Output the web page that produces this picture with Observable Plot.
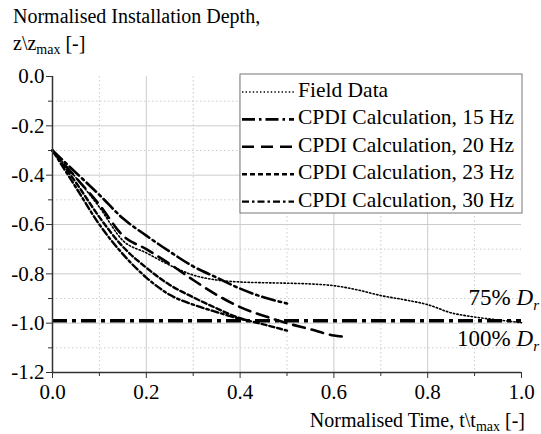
<!DOCTYPE html>
<html><head><meta charset="utf-8">
<script src="https://cdn.jsdelivr.net/npm/d3@7"></script>
<script src="https://cdn.jsdelivr.net/npm/@observablehq/plot@0.6"></script>
<style>
body{margin:0;background:#fff}
svg, svg text, svg tspan { font-family: "Liberation Serif", "Times New Roman", Times, serif !important; }
</style>
</head><body><div id="chart"></div>
<script>
// ---- data ----
const seriesNames = ["Field Data", "CPDI Calculation, 15 Hz", "CPDI Calculation, 20 Hz", "CPDI Calculation, 23 Hz", "CPDI Calculation, 30 Hz"];
const fieldT = [0, 0.05, 0.1, 0.15, 0.2, 0.25, 0.3, 0.35, 0.4, 0.45, 0.5, 0.55, 0.6, 0.65, 0.7, 0.75, 0.8, 0.85, 0.9, 0.95, 1.0];
const fieldZ = [-0.30, -0.41, -0.53, -0.665, -0.715, -0.765, -0.805, -0.825, -0.833, -0.836, -0.838, -0.841, -0.848, -0.865, -0.888, -0.905, -0.925, -0.958, -0.975, -0.987, -0.998];
const hz15T = [0, 0.05, 0.1, 0.15, 0.2, 0.25, 0.3, 0.35, 0.4, 0.45, 0.5];
const hz15Z = [-0.30, -0.39, -0.48, -0.575, -0.645, -0.71, -0.77, -0.815, -0.86, -0.895, -0.92];
const hz20T = [0, 0.05, 0.1, 0.15, 0.2, 0.25, 0.3, 0.35, 0.4, 0.45, 0.5, 0.55, 0.6, 0.62];
const hz20Z = [-0.30, -0.41, -0.52, -0.645, -0.70, -0.76, -0.825, -0.885, -0.935, -0.97, -1.0, -1.025, -1.05, -1.055];
const hz23T = [0, 0.05, 0.1, 0.15, 0.2, 0.25, 0.3, 0.35, 0.4, 0.45, 0.5];
const hz23Z = [-0.30, -0.43, -0.57, -0.69, -0.775, -0.845, -0.895, -0.94, -0.98, -1.005, -1.03];
const hz30T = [0, 0.05, 0.1, 0.15, 0.2, 0.25, 0.3, 0.35, 0.4, 0.42];
const hz30Z = [-0.30, -0.45, -0.60, -0.72, -0.815, -0.885, -0.925, -0.955, -0.982, -0.99];
const refZ = -0.99;
const xTicks = [0, 0.2, 0.4, 0.6, 0.8, 1.0];
const xMinor = [0.1, 0.3, 0.5, 0.7, 0.9];
const yTicks = [0, -0.2, -0.4, -0.6, -0.8, -1.0, -1.2];
const yMinor = [-0.1, -0.3, -0.5, -0.7, -0.9, -1.1];
const refLabels = ["75% ", "100% "];

// ---- styles per series ----
const styles = [
  {dash: "1.4,2.2", w: 1.6},
  {dash: "13,4,2.5,4", w: 2.6},
  {dash: "12,7", w: 2.6},
  {dash: "5,3", w: 2.4},
  {dash: "7,3,2.5,3", w: 2.4}
];
const tArr = [fieldT, hz15T, hz20T, hz23T, hz30T];
const zArr = [fieldZ, hz15Z, hz20Z, hz23Z, hz30Z];
const series = seriesNames.map((name, i) => tArr[i].map((t, j) => ({name, t, z: zArr[i][j]})));

const font = "Liberation Serif, Times New Roman, serif";
const lineMarks = series.map((rows, i) => Plot.line(rows, {x: "t", y: "z", curve: "monotone-x", stroke: "#000", strokeWidth: styles[i].w, strokeDasharray: styles[i].dash}));

const chart = Plot.plot({
  width: 541, height: 434,
  marginLeft: 52, marginRight: 20, marginTop: 76, marginBottom: 62,
  style: {fontFamily: font, fontSize: "21px", color: "#000", background: "#fff"},
  x: {domain: [0, 1]},
  y: {domain: [-1.2, 0]},
  marks: [
    Plot.gridX(xMinor, {stroke: "#ccc", strokeOpacity: 1, strokeDasharray: "1.5,2.5"}),
    Plot.gridY(yMinor, {stroke: "#ccc", strokeOpacity: 1, strokeDasharray: "1.5,2.5"}),
    Plot.gridX(xTicks.filter(d => d > 0 && d < 1), {stroke: "#ccc", strokeOpacity: 1}),
    Plot.gridY(yTicks.filter(d => d < 0 && d > -1.2), {stroke: "#ccc", strokeOpacity: 1}),
    Plot.axisX(xMinor, {tickSize: 4, label: null, text: null, stroke: "#333"}),
    Plot.axisY(yMinor, {tickSize: 4, label: null, text: null, stroke: "#333"}),
    Plot.axisX(xTicks, {tickSize: 6, tickPadding: 6, label: null, tickFormat: d3.format(".1f"), stroke: "#333"}),
    Plot.axisY(yTicks, {tickSize: 6, tickPadding: 2, label: null, tickFormat: d => d3.format(".1f")(d).replace("−", "-"), stroke: "#333"}),
    Plot.ruleY([refZ], {x1: 0, x2: 1, stroke: "#000", strokeWidth: 3.4, strokeDasharray: "15,5,4,5"}),
    ...lineMarks,
    Plot.ruleX([0], {y1: -1.2, y2: 0, stroke: "#333", strokeWidth: 1.5}),
    Plot.ruleY([-1.2], {x1: 0, x2: 1, stroke: "#333", strokeWidth: 1.5})
  ]
});
document.getElementById("chart").appendChild(chart);

const sx = chart.scale("x"), sy = chart.scale("y");
const svg = d3.select(chart);
svg.style("overflow", "visible");
function txt(x, y, size, anchor) {
  return svg.append("text").attr("x", x).attr("y", y)
    .style("font-size", size + "px").style("text-anchor", anchor || "start").style("fill", "#000");
}

// y-axis title
txt(13, 23, 20).text("Normalised Installation Depth,");
const yt2 = txt(13, 50, 20);
yt2.append("tspan").text("z\\z");
yt2.append("tspan").style("font-size", "14px").attr("dy", 4).text("max");
yt2.append("tspan").attr("dy", -4).text(" [-]");

// x-axis title
const xt = txt(525, 427, 20, "end");
xt.append("tspan").text("Normalised Time, t\\t");
xt.append("tspan").style("font-size", "14px").attr("dy", 4).text("max");
xt.append("tspan").attr("dy", -4).text(" [-]");

// reference labels (right-aligned so they stay inside the picture)
const yRef = sy.apply(refZ);
[[refLabels[0], -15], [refLabels[1], 26]].forEach(([s, dy]) => {
  const t = txt(539, yRef + dy, 23, "end");
  t.append("tspan").text(s);
  t.append("tspan").style("font-style", "italic").text("D");
  t.append("tspan").style("font-style", "italic").style("font-size", "15px").attr("dy", 5).text("r");
});

// legend
const lg = svg.append("g");
const lx = 240, ly = 74, lw = 282, lh = 139;
lg.append("rect").attr("x", lx).attr("y", ly).attr("width", lw).attr("height", lh).attr("fill", "#fff").attr("stroke", "#777").attr("stroke-width", 1);
seriesNames.forEach((name, i) => {
  const base = ly + 23 + i * 27.4;
  lg.append("line").attr("x1", lx + 2).attr("x2", lx + 54).attr("y1", base - 5).attr("y2", base - 5)
    .attr("stroke", "#000").attr("stroke-width", styles[i].w).attr("stroke-dasharray", styles[i].dash);
  lg.append("text").attr("x", lx + 58).attr("y", base)
    .style("font-size", "21.5px").style("text-anchor", "start").style("fill", "#000").text(name);
});
</script>
</body></html>
